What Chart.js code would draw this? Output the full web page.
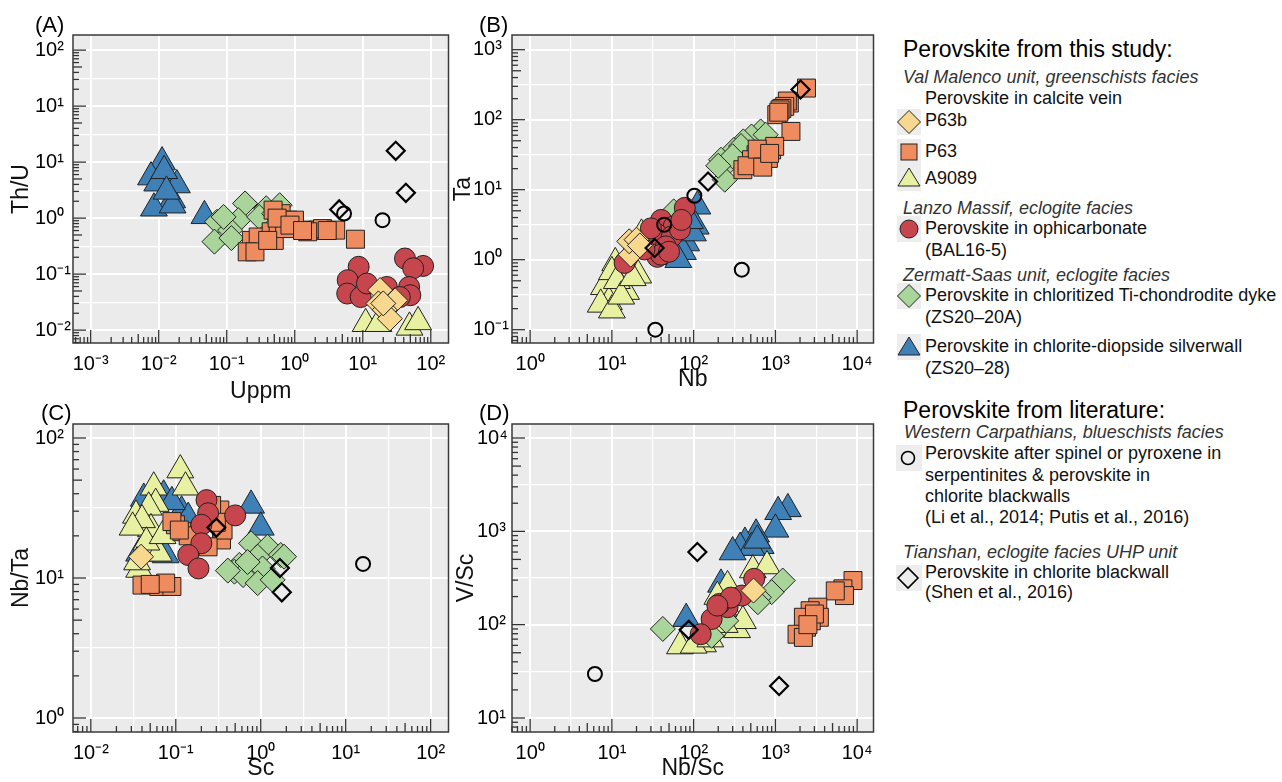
<!DOCTYPE html>
<html>
<head>
<meta charset="utf-8">
<script src="https://cdn.jsdelivr.net/npm/chart.js@4.4.1/dist/chart.umd.min.js"></script>
<style>
body{margin:0;background:#fff;width:1282px;height:782px;overflow:hidden;position:relative;font-family:"Liberation Sans",Arial,Helvetica,sans-serif;}
canvas{position:absolute;}
.lg{position:absolute;white-space:nowrap;line-height:20px;font-size:18px;color:#111;}
.lg.h{font-size:23px;color:#000;}
.lg.i{font-style:italic;font-size:18px;color:#333;}
.ic{position:absolute;left:896px;}
</style>
</head>
<body>
<canvas id="chartA" width="465" height="405" style="left:0;top:0"></canvas>
<canvas id="chartB" width="450" height="405" style="left:440px;top:0"></canvas>
<canvas id="chartC" width="465" height="387" style="left:0;top:395px"></canvas>
<canvas id="chartD" width="450" height="387" style="left:440px;top:395px"></canvas>

<div class="lg h" style="left:903px;top:39px">Perovskite from this study:</div>
<div class="lg i" style="left:903px;top:67px">Val Malenco unit, greenschists facies</div>
<div class="lg" style="left:925px;top:88px">Perovskite in calcite vein</div>
<svg class="ic" style="top:109px" width="26" height="26"><rect x="1" y="0" width="24" height="26" fill="#EDEDED"/><polygon points="1.5,13 13,1.5 24.5,13 13,24.5" fill="#F8D88F" stroke="#222" stroke-width="1"/></svg>
<div class="lg" style="left:925px;top:110px">P63b</div>
<svg class="ic" style="top:139px" width="26" height="26"><rect x="1" y="0" width="24" height="26" fill="#EDEDED"/><rect x="5" y="5" width="16" height="16" fill="#EF8C5F" stroke="#222" stroke-width="1"/></svg>
<div class="lg" style="left:925px;top:141px">P63</div>
<svg class="ic" style="top:165px" width="26" height="26"><rect x="1" y="0" width="24" height="26" fill="#EDEDED"/><polygon points="13,3 24,21 2,21" fill="#E8F1A1" stroke="#222" stroke-width="1"/></svg>
<div class="lg" style="left:925px;top:168px">A9089</div>
<div class="lg i" style="left:903px;top:198px">Lanzo Massif, eclogite facies</div>
<svg class="ic" style="top:216px" width="26" height="26"><rect x="1" y="0" width="24" height="26" fill="#EDEDED"/><circle cx="13" cy="13" r="9" fill="#C7454D" stroke="#222" stroke-width="1"/></svg>
<div class="lg" style="left:925px;top:218px">Perovskite in ophicarbonate</div>
<div class="lg" style="left:925px;top:240px">(BAL16-5)</div>
<div class="lg i" style="left:903px;top:265px">Zermatt-Saas unit, eclogite facies</div>
<svg class="ic" style="top:283px" width="26" height="26"><rect x="1" y="0" width="24" height="26" fill="#EDEDED"/><polygon points="1.5,13 13,1.5 24.5,13 13,24.5" fill="#A9D59B" stroke="#222" stroke-width="1"/></svg>
<div class="lg" style="left:925px;top:285px">Perovskite in chloritized Ti-chondrodite dyke</div>
<div class="lg" style="left:925px;top:307px">(ZS20–20A)</div>
<svg class="ic" style="top:334px" width="26" height="26"><rect x="1" y="0" width="24" height="26" fill="#EDEDED"/><polygon points="13,3 24,21 2,21" fill="#3F80B7" stroke="#222" stroke-width="1"/></svg>
<div class="lg" style="left:925px;top:336px">Perovskite in chlorite-diopside silverwall</div>
<div class="lg" style="left:925px;top:358px">(ZS20–28)</div>

<div class="lg h" style="left:903px;top:400px">Perovskite from literature:</div>
<div class="lg i" style="left:904px;top:422px">Western Carpathians, blueschists facies</div>
<svg class="ic" style="top:445px" width="26" height="26"><rect x="0" y="0" width="26" height="26" fill="#EDEDED"/><circle cx="12" cy="13" r="6.5" fill="none" stroke="#000" stroke-width="1.6"/></svg>
<div class="lg" style="left:925px;top:443px">Perovskite after spinel or pyroxene in</div>
<div class="lg" style="left:925px;top:465px">serpentinites &amp; perovskite in</div>
<div class="lg" style="left:925px;top:486px">chlorite blackwalls</div>
<div class="lg" style="left:925px;top:507px">(Li et al., 2014; Putis et al., 2016)</div>
<div class="lg i" style="left:903px;top:542px">Tianshan, eclogite facies UHP unit</div>
<svg class="ic" style="top:565px" width="26" height="26"><rect x="0" y="0" width="26" height="26" fill="#EDEDED"/><polygon points="2,13 12,3 22,13 12,23" fill="none" stroke="#000" stroke-width="1.6"/></svg>
<div class="lg" style="left:925px;top:562px">Perovskite in chlorite blackwall</div>
<div class="lg" style="left:925px;top:582px">(Shen et al., 2016)</div>

<script>
// ---------- data: [x, y] ----------
// (A) Th/U vs U ppm
const A_ZS28 = [[0.0112,10],[0.0077,5.4],[0.0142,4.8],[0.0095,4.2],[0.0158,2.1],[0.0085,1.5],[0.0185,3.9],[0.016,1.7],[0.047,1.1],[0.012,7],[0.013,3]];
const A_ZS20A = [[0.186,1.83],[0.072,0.86],[0.148,0.92],[0.112,0.61],[0.066,0.38],[0.38,1.5],[0.09,1.05],[0.117,0.44],[0.6,1.7],[0.3,1.05],[0.5,1.2]];
const A_P63 = [[0.245,0.31],[0.23,0.4],[0.29,0.46],[0.45,0.57],[0.5,0.4],[0.63,1.2],[0.57,0.8],[0.79,0.92],[0.99,0.92],[0.71,0.65],[0.48,1.39],[0.2,0.25],[0.26,0.25],[0.4,0.4],[1.83,0.61],[2.16,0.61],[2.56,0.65],[1.55,0.57],[4.0,0.61],[7.8,0.42],[0.55,1.0],[0.85,0.75],[1.3,0.6],[3.0,0.6]];
const A_BAL = [[8.7,0.135],[6.0,0.078],[5.9,0.045],[9.3,0.039],[11.5,0.068],[41.7,0.19],[77,0.14],[55,0.127],[48,0.059],[50,0.042],[22.6,0.059],[35,0.039]];
const A_P63b = [[18,0.052],[30,0.034],[17,0.03],[21,0.023],[25,0.016],[20,0.03]];
const A_A9089 = [[11,0.013],[48.6,0.0112],[65,0.014],[17,0.013]];
const A_litD = [[30.5,15.9],[43,2.83],[4.5,1.43]];
const A_litC = [[5.3,1.21],[19.5,0.92]];

// (B) Ta vs Nb
const B_ZS28 = [[111,5.8],[106,3],[81,1.73],[57,1.1],[74,1.3],[98,2.4],[90,3.6],[65,1.0]];
const B_ZS20A = [[660,68],[510,57.6],[405,49],[310,37],[216,26.8],[270,25],[240,13.9],[380,42],[760,61],[57,4.9],[300,30],[200,22]];
const B_P63 = [[2400,283],[1480,173],[1400,185],[1300,155],[1200,145],[1140,138],[1040,118],[1100,128],[1550,68],[660,37],[760,31.6],[580,31.6],[510,26.8],[400,19.3],[690,24],[900,37],[980,41.6],[820,28],[450,22],[600,38],[700,21],[850,33]];
const B_BAL = [[78,5.5],[40,3.7],[57,3.0],[36,2.3],[54,2.15],[68,2.7],[45.6,1.55],[36,1.1],[14.3,0.9],[40,1.18],[71,3.7],[30,2.8],[50,1.3],[25,1.4]];
const B_P63b = [[19.5,1.47],[17,1.18],[16.3,1.83],[20,1.93],[22,1.6]];
const B_A9089 = [[23,2.3],[11,0.9],[21,0.6],[8,0.41],[12,0.39],[9.2,0.25],[10,0.67],[14.9,0.35],[11.5,0.5],[7.3,0.23],[10,0.19],[13,0.3],[18,0.55]];
const B_litD = [[150,13.1],[2030,270],[33.3,1.47]];
const B_litC = [[102,8.2],[43.6,3.16],[388,0.72],[34,0.1]];

// (C) Nb/Ta vs Sc
const C_ZS28 = [[0.042,37],[0.072,39],[0.117,30],[0.77,33],[1.0,23],[0.14,27],[0.037,15],[0.076,14.6],[0.09,35],[0.05,20]];
const C_ZS20A = [[0.77,17.7],[1.2,16.7],[1.72,14.6],[0.92,14.2],[0.56,12.4],[0.49,11.1],[1.05,11.7],[0.62,10.5],[0.92,9.2],[0.41,11.3],[1.38,9.7],[1.88,14.2],[0.7,13]];
const C_P63 = [[0.04,8.9],[0.063,8.7],[0.09,8.7],[0.076,9.2],[0.05,9],[0.099,24],[0.118,21.4],[0.09,25.3],[0.33,30.6],[0.345,18.7],[0.36,22],[0.24,16.7],[0.264,33],[0.14,20],[0.3,25],[0.11,22]];
const C_BAL = [[0.23,36],[0.5,28],[0.24,29],[0.2,24],[0.2,17.7],[0.14,14.6],[0.185,11.7]];
const C_P63b = [[0.039,14.2]];
const C_A9089 = [[0.113,59],[0.13,44.5],[0.055,44.5],[0.058,34],[0.048,32],[0.034,28],[0.051,22.4],[0.04,26],[0.063,15],[0.037,11.5],[0.031,23],[0.045,18],[0.07,20],[0.035,13]];
const C_litD = [[0.3,22.9],[1.68,11.8],[1.77,7.9]];
const C_litC = [[16,12.6]];

// (D) V/Sc vs Nb/Sc
const D_ZS28 = [[1420,1740],[1080,1620],[1000,1050],[580,930],[660,700],[424,760],[370,670],[510,670],[216,270],[81,116],[600,800],[300,600]];
const D_ZS20A = [[1230,297],[900,223],[630,196],[42,90],[610,174],[166,76],[250,110]];
const D_P63 = [[8900,297],[6700,242],[7000,205],[5400,230],[3300,154],[2660,141],[3450,120],[2750,110],[2400,94],[2200,120],[1840,79],[2200,73],[3000,130],[2500,100]];
const D_BAL = [[550,310],[390,205],[260,154],[207,167],[166,115],[122,79],[285,195],[195,160]];
const D_P63b = [[540,232]];
const D_A9089 = [[530,385],[790,425],[260,260],[195,200],[68,59],[310,113],[285,93],[340,88],[130,62],[100,60],[160,70],[230,150],[400,110],[240,100],[180,120]];
const D_litD = [[111,600],[87,88],[1110,22]];
const D_litC = [[6.2,29.6]];

// tick exponents and their labels
const xExpA = [-3,-2,-1,0,1,2];
const xLabA = ['10⁻³','10⁻²','10⁻¹','10⁰','10¹','10²'];
const yExpA = [-2,-1,0,1,2,3];
const yLabA = ['10⁻²','10⁻¹','10⁰','10¹','10¹','10²'];
const xExpB = [0,1,2,3,4];
const xLabB = ['10⁰','10¹','10²','10³','10⁴'];
const yExpB = [-1,0,1,2,3];
const yLabB = ['10⁻¹','10⁰','10¹','10²','10³'];
const xExpC = [-2,-1,0,1,2];
const xLabC = ['10⁻²','10⁻¹','10⁰','10¹','10²'];
const yExpC = [0,1,2];
const yLabC = ['10⁰','10¹','10²'];
const xExpD = [0,1,2,3,4];
const xLabD = ['10⁰','10¹','10²','10³','10⁴'];
const yExpD = [1,2,3,4];
const yLabD = ['10¹','10²','10³','10⁴'];

// ---------- styles ----------
const FONT = '"Liberation Sans", Arial, Helvetica, sans-serif';
Chart.defaults.font.family = FONT;

// first group is drawn on top
const groups = [
  {id:'litD',  style:'rectRot',  r:9,    fill:'rgba(0,0,0,0)', line:'#000', w:2.2},
  {id:'litC',  style:'circle',   r:7,    fill:'rgba(0,0,0,0)', line:'#000', w:2},
  {id:'P63b',  style:'rectRot',  r:12.5, fill:'#F8D88F', line:'#222', w:1},
  {id:'BAL',   style:'circle',   r:10.5, fill:'#C7454D', line:'#222', w:1},
  {id:'P63',   style:'rect',     r:12.7, fill:'#EF8C5F', line:'#222', w:1},
  {id:'ZS20A', style:'rectRot',  r:12.5, fill:'#A9D59B', line:'#222', w:1},
  {id:'A9089', style:'triangle', r:15.5, fill:'#E8F1A1', line:'#222', w:1},
  {id:'ZS28',  style:'triangle', r:15.5, fill:'#3F80B7', line:'#222', w:1}
];

function datasets(series) {
  return groups.map(g => ({
    label: g.id,
    data: series[g.id].map(p => ({x: p[0], y: p[1]})),
    pointStyle: g.style,
    pointRadius: g.r,
    pointHoverRadius: g.r,
    pointBackgroundColor: g.fill,
    pointBorderColor: g.line,
    pointBorderWidth: g.w,
    showLine: false
  }));
}

function isMajor(v) {
  const e = Math.log10(v);
  return Math.abs(e - Math.round(e)) < 1e-6;
}

function axis(o, pos) {
  return {
    type: 'logarithmic',
    position: pos,
    min: Math.pow(10, o.lo),
    max: Math.pow(10, o.hi),
    afterBuildTicks: s => {
      const t = [];
      for (let e = Math.floor(o.lo); e <= Math.ceil(o.hi); e++) {
        if (e >= o.lo && e <= o.hi) t.push({value: Math.pow(10, e)});
        if (o.half && e + 0.5 >= o.lo && e + 0.5 <= o.hi) t.push({value: Math.pow(10, e + 0.5)});
      }
      s.ticks = t;
    },
    afterFit: s => {
      if (pos === 'left') s.width = o.size; else s.height = o.size;
    },
    ticks: {
      autoSkip: false,
      maxRotation: 0,
      padding: 9,
      crossAlign: pos === 'left' ? 'far' : 'near',
      color: '#000',
      font: {size: 20},
      callback: v => {
        if (!isMajor(v)) return '';
        const i = o.exps.indexOf(Math.round(Math.log10(v)));
        return i < 0 ? '' : o.labels[i];
      }
    },
    grid: {
      drawTicks: false,
      color: '#FFFFFF',
      lineWidth: c => (c.tick && isMajor(c.tick.value)) ? 2 : 1.2
    },
    border: {display: false},
    title: {display: true, text: o.title, color: '#111', font: {size: 23}, padding: o.tpad}
  };
}

const decor = {
  id: 'decor',
  beforeDraw(chart) {
    const a = chart.chartArea, ctx = chart.ctx;
    ctx.save();
    ctx.fillStyle = '#EBEBEB';
    ctx.fillRect(a.left, a.top, a.right - a.left, a.bottom - a.top);
    ctx.restore();
  },
  afterDatasetsDraw(chart, args, opts) {
    const a = chart.chartArea, ctx = chart.ctx;
    ctx.save();
    ctx.strokeStyle = '#333';
    ctx.lineWidth = 1.3;
    ['x', 'y'].forEach(id => {
      const s = chart.scales[id];
      const lo = Math.floor(Math.log10(s.min)), hi = Math.ceil(Math.log10(s.max));
      for (let e = lo; e <= hi; e++) {
        for (let m = 1; m <= 9; m++) {
          const v = m * Math.pow(10, e);
          if (v < s.min || v > s.max) continue;
          const len = m === 1 ? 13 : (m === 5 ? 9 : 6);
          const p = s.getPixelForValue(v);
          ctx.beginPath();
          if (id === 'x') { ctx.moveTo(p, a.bottom); ctx.lineTo(p, a.bottom - len); }
          else { ctx.moveTo(a.left, p); ctx.lineTo(a.left + len, p); }
          ctx.stroke();
        }
      }
    });
    ctx.lineWidth = 1.5;
    ctx.strokeStyle = '#3a3a3a';
    ctx.strokeRect(a.left, a.top, a.right - a.left, a.bottom - a.top);
    ctx.fillStyle = '#000';
    ctx.font = '22px ' + FONT;
    ctx.textBaseline = 'alphabetic';
    ctx.fillText(opts.label, opts.lx, opts.ly);
    ctx.restore();
  }
};

const panels = [
  {id: 'chartA', series: {litD: A_litD, litC: A_litC, P63b: A_P63b, BAL: A_BAL, P63: A_P63, ZS20A: A_ZS20A, A9089: A_A9089, ZS28: A_ZS28},
   x: {lo: -3.26, hi: 2.26, exps: xExpA, labels: xLabA, half: false, title: 'Uppm', size: 62, tpad: {top: 0, bottom: 0}},
   y: {lo: -2.23, hi: 3.27, exps: yExpA, labels: yLabA, half: true, title: 'Th/U', size: 38, tpad: {top: -27, bottom: 0}},
   pad: {left: 35, top: 35, right: 13, bottom: 0}, label: '(A)', lx: 35, ly: 32},
  {id: 'chartB', series: {litD: B_litD, litC: B_litC, P63b: B_P63b, BAL: B_BAL, P63: B_P63, ZS20A: B_ZS20A, A9089: B_A9089, ZS28: B_ZS28},
   x: {lo: -0.2, hi: 4.2, exps: xExpB, labels: xLabB, half: true, title: 'Nb', size: 62, tpad: {top: 0, bottom: 12}},
   y: {lo: -1.19, hi: 3.21, exps: yExpB, labels: yLabB, half: true, title: 'Ta', size: 39, tpad: {top: -23, bottom: 0}},
   pad: {left: 33, top: 35, right: 1, bottom: 0}, label: '(B)', lx: 39, ly: 32},
  {id: 'chartC', series: {litD: C_litD, litC: C_litC, P63b: C_P63b, BAL: C_BAL, P63: C_P63, ZS20A: C_ZS20A, A9089: C_A9089, ZS28: C_ZS28},
   x: {lo: -2.21, hi: 2.21, exps: xExpC, labels: xLabC, half: true, title: 'Sc', size: 50, tpad: {top: 0, bottom: 0}},
   y: {lo: -0.1, hi: 2.1, exps: yExpC, labels: yLabC, half: true, title: 'Nb/Ta', size: 38, tpad: {top: -27, bottom: 0}},
   pad: {left: 35, top: 29, right: 13, bottom: 0}, label: '(C)', lx: 41, ly: 25},
  {id: 'chartD', series: {litD: D_litD, litC: D_litC, P63b: D_P63b, BAL: D_BAL, P63: D_P63, ZS20A: D_ZS20A, A9089: D_A9089, ZS28: D_ZS28},
   x: {lo: -0.2, hi: 4.2, exps: xExpD, labels: xLabD, half: true, title: 'Nb/Sc', size: 50, tpad: {top: 0, bottom: 0}},
   y: {lo: 0.85, hi: 4.15, exps: yExpD, labels: yLabD, half: true, title: 'V/Sc', size: 35, tpad: {top: -24, bottom: 0}},
   pad: {left: 37, top: 29, right: 1, bottom: 0}, label: '(D)', lx: 39, ly: 25}
];

panels.forEach(p => {
  new Chart(p.id, {
    type: 'scatter',
    plugins: [decor],
    data: {datasets: datasets(p.series)},
    options: {
      responsive: false,
      animation: false,
      layout: {padding: p.pad},
      scales: {x: axis(p.x, 'bottom'), y: axis(p.y, 'left')},
      plugins: {
        legend: {display: false},
        tooltip: {enabled: false},
        decor: {label: p.label, lx: p.lx, ly: p.ly}
      }
    }
  });
});
</script>
</body>
</html>
